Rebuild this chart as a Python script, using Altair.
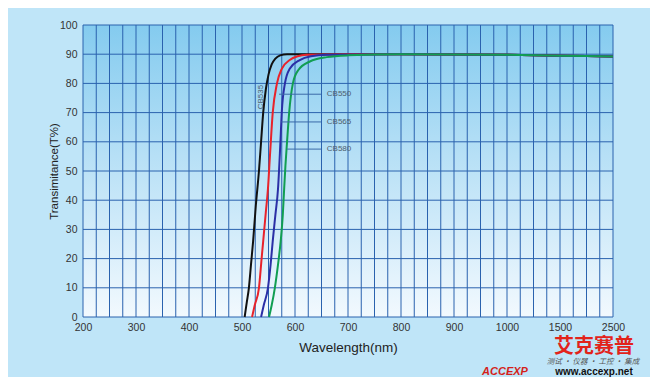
import altair as alt
import pandas as pd

# ---------------- data ----------------
series_names = ["CB535", "CB550", "CB565", "CB580"]
series_colors = ["#111111", "#e8232b", "#2b2fa6", "#119e52"]

cb535_wl = [505, 509, 513, 517, 521, 526, 532, 536, 540, 545, 550, 556, 563, 572, 585, 650, 800, 1000, 1500, 2500]
cb535_t = [0, 5, 10, 18, 26, 38, 50, 60, 70, 78, 83, 86.5, 88.5, 89.6, 90, 90, 90, 89.8, 89.5, 89.2]

cb550_wl = [519, 524, 532, 537, 540, 545, 549, 553, 558, 566, 575, 590, 605, 622, 700, 800, 1000, 1500, 2500]
cb550_t = [0, 4, 10, 20, 26, 36, 44, 56, 70, 80, 85, 88, 89.3, 89.8, 90, 90, 89.8, 89.5, 89.2]

cb565_wl = [536, 541, 549, 554, 558, 563, 568, 572, 575, 581, 590, 609, 630, 660, 800, 1000, 1500, 2500]
cb565_t = [0, 4, 10, 18, 26, 35, 44, 58, 70, 80, 85, 88, 89.3, 89.8, 90, 89.8, 89.5, 89.2]

cb580_wl = [551, 556, 562, 568, 573, 577, 579, 582, 585, 589, 596, 606, 628, 660, 700, 800, 1000, 1500, 2500]
cb580_t = [0, 4, 10, 18, 26, 35, 42, 52, 60, 70, 80, 84.5, 87.5, 89, 89.6, 90, 89.8, 89.5, 89.2]

# axis ticks / grid
x_label_values = [200, 300, 400, 500, 600, 700, 800, 900, 1000, 1500, 2500]
x_grid_values = list(range(200, 1001, 25)) + [1125, 1250, 1375, 1500, 1750, 2000, 2250, 2500]
y_grid_values = list(range(0, 101, 10))

# annotations
lead_labels = ["CB550", "CB565", "CB580"]
lead_x1 = [570, 574, 585]
lead_x2 = [649, 649, 649]
lead_y = [76.3, 66.8, 57.5]
text_x = [660, 660, 660]
vert_label = ["CB535"]
vert_x = [535]
vert_y = [75.3]

# ---------------- build ----------------
rows = []
for name, wl, t in zip(series_names,
                       [cb535_wl, cb550_wl, cb565_wl, cb580_wl],
                       [cb535_t, cb550_t, cb565_t, cb580_t]):
    for a, b in zip(wl, t):
        rows.append({"series": name, "wl": a, "t": b})
df = pd.DataFrame(rows)

W, H = 530, 292
xscale = alt.Scale(domain=[200, 1000, 1500, 2500], range=[0, 424, 477, 530], nice=False, zero=False)
yscale = alt.Scale(domain=[0, 100], nice=False, zero=False)

label_list = ",".join(str(v) for v in x_label_values)

x_axis = alt.Axis(values=x_grid_values, format="d", grid=False, ticks=False, domain=False,
                  labelExpr="indexof([" + label_list + "], datum.value) >= 0 ? datum.label : ''",
                  labelFont="Liberation Sans", labelFontSize=10.5, labelColor="#333333",
                  labelPadding=5, labelFlush=False, labelOverlap=False,
                  title="Wavelength(nm)", titleFont="Liberation Sans", titleFontSize=13.5,
                  titleFontWeight="normal", titleColor="#222222", titlePadding=8)
y_axis = alt.Axis(values=y_grid_values, format="d", grid=False, ticks=False, domain=False,
                  labelFont="Liberation Sans", labelFontSize=10.5, labelColor="#333333",
                  labelPadding=6, labelFlush=False, labelOverlap=False,
                  title="Transimitance(T%)", titleFont="Liberation Sans", titleFontSize=11.5,
                  titleFontWeight="normal", titleColor="#222222", titlePadding=0)

bg = alt.Chart(pd.DataFrame({"a": [0]})).mark_rect(
    fill=alt.Gradient(
        gradient="linear",
        stops=[alt.GradientStop(color="#84cbef", offset=0),
               alt.GradientStop(color="#b7e0f6", offset=0.45),
               alt.GradientStop(color="#f2f9fe", offset=1)],
        x1=0, x2=0, y1=0, y2=1),
).encode(x=alt.value(0), x2=alt.value(W), y=alt.value(0), y2=alt.value(H))

grid_color = "#2a62ae"
xgrid = alt.Chart(pd.DataFrame({"g": x_grid_values})).mark_rule(
    color=grid_color, strokeWidth=1
).encode(x=alt.X("g:Q", scale=xscale, axis=x_axis))
ygrid = alt.Chart(pd.DataFrame({"g": y_grid_values})).mark_rule(
    color=grid_color, strokeWidth=1
).encode(y=alt.Y("g:Q", scale=yscale, axis=y_axis))

lines = alt.Chart(df).mark_line(strokeWidth=2, interpolate="monotone").encode(
    x=alt.X("wl:Q", scale=xscale, axis=x_axis),
    y=alt.Y("t:Q", scale=yscale, axis=y_axis),
    color=alt.Color("series:N", scale=alt.Scale(domain=series_names, range=series_colors), legend=None),
    order=alt.Order("wl:Q"),
)

lead_df = pd.DataFrame({"label": lead_labels, "x1": lead_x1, "x2": lead_x2, "y": lead_y, "tx": text_x})
leaders = alt.Chart(lead_df).mark_rule(color="#3a6aa8", strokeWidth=1).encode(
    x=alt.X("x1:Q", scale=xscale, axis=x_axis), x2="x2:Q", y=alt.Y("y:Q", scale=yscale, axis=y_axis)
)
lead_text = alt.Chart(lead_df).mark_text(
    align="left", baseline="middle", font="Liberation Sans", fontSize=8, color="#4d5d6e"
).encode(x=alt.X("tx:Q", scale=xscale, axis=x_axis), y=alt.Y("y:Q", scale=yscale, axis=y_axis), text="label:N")

vert_df = pd.DataFrame({"label": vert_label, "x": vert_x, "y": vert_y})
vert_text = alt.Chart(vert_df).mark_text(
    align="center", baseline="middle", angle=270, font="Liberation Sans", fontSize=8, color="#4d5d6e"
).encode(x=alt.X("x:Q", scale=xscale, axis=x_axis), y=alt.Y("y:Q", scale=yscale, axis=y_axis), text="label:N")

logo1 = alt.Chart(pd.DataFrame({"s": ["艾克赛普"]})).mark_text(
    font="Noto Sans CJK SC", fontSize=20, fontWeight="bold", color="#e2231a", align="center", baseline="middle"
).encode(x=alt.value(511), y=alt.value(322), text="s:N")
logo2 = alt.Chart(pd.DataFrame({"s": ["测试  ·  仪器  ·  工控  ·  集成"]})).mark_text(
    font="Noto Sans CJK SC", fontSize=7.5, fontStyle="italic", color="#555555", align="center", baseline="middle"
).encode(x=alt.value(510), y=alt.value(337), text="s:N")
logo3 = alt.Chart(pd.DataFrame({"s": ["www.accexp.net"]})).mark_text(
    font="Liberation Sans", fontSize=10, fontWeight="bold", color="#111111", align="center", baseline="middle"
).encode(x=alt.value(511), y=alt.value(347), text="s:N")
logo4 = alt.Chart(pd.DataFrame({"s": ["ACCEXP"]})).mark_text(
    font="Liberation Sans", fontSize=11, fontWeight="bold", fontStyle="italic", color="#d41f1a", align="center", baseline="middle"
).encode(x=alt.value(422), y=alt.value(347), text="s:N")

chart = alt.layer(bg, xgrid, ygrid, lines, leaders, lead_text, vert_text, logo1, logo2, logo3, logo4).properties(
    width=W, height=H,
    autosize=alt.AutoSizeParams(type="none"),
    padding={"left": 75, "top": 17, "right": 37, "bottom": 60},
    background="#bfe5f8",
).configure_view(stroke=None)

chart.save("out.html", embed_options={"renderer": "svg", "actions": False})
